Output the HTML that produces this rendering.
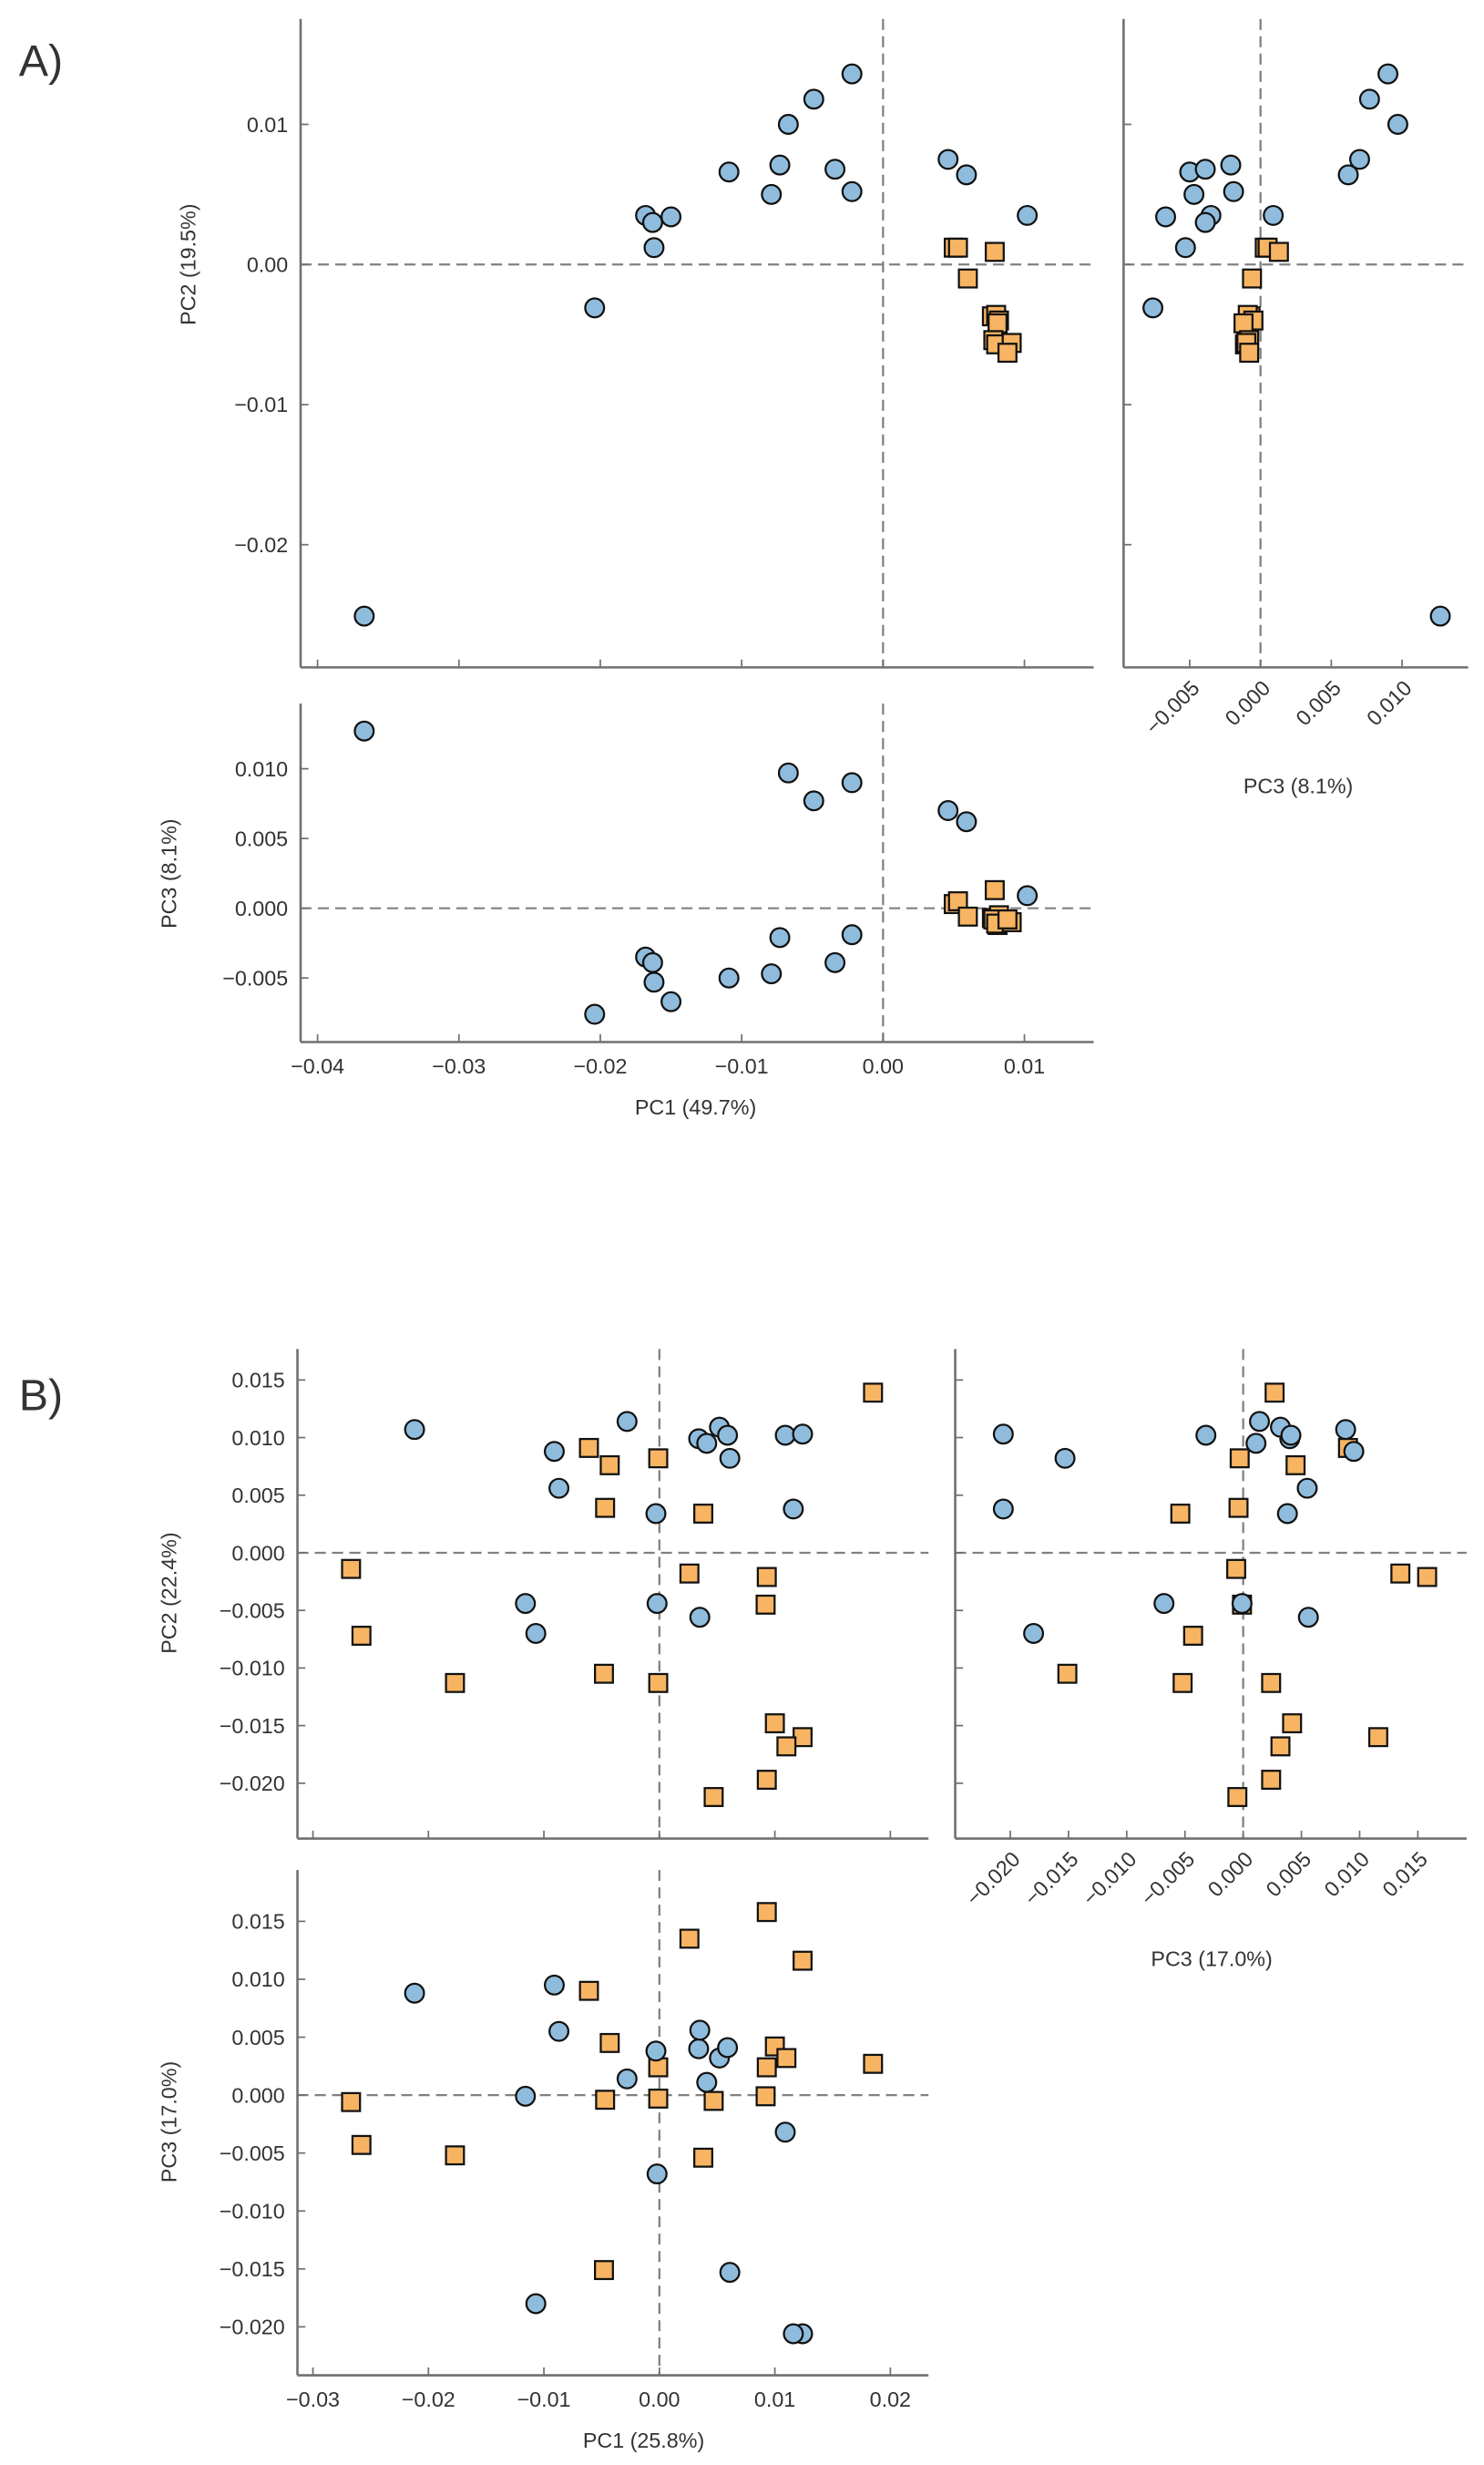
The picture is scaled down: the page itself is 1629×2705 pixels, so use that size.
<!DOCTYPE html>
<html><head><meta charset="utf-8"><style>
html,body{margin:0;padding:0;background:#fff}
svg{display:block}
text{font-family:"Liberation Sans",sans-serif;fill:#333}
</style></head><body>
<svg id="fig" width="1629" height="2705" viewBox="0 0 943 1566" xmlns="http://www.w3.org/2000/svg">
<text x="12" y="48" font-size="28">A)</text>
<text x="12" y="896" font-size="28">B)</text>
<text transform="translate(124,168) rotate(-90)" text-anchor="middle" font-size="13.5">PC2 (19.5%)</text>
<text transform="translate(112,555) rotate(-90)" text-anchor="middle" font-size="13.5">PC3 (8.1%)</text>
<text x="442" y="708" text-anchor="middle" font-size="13.5">PC1 (49.7%)</text>
<text x="825" y="504" text-anchor="middle" font-size="13.5">PC3 (8.1%)</text>
<text transform="translate(112,1012) rotate(-90)" text-anchor="middle" font-size="13.5">PC2 (22.4%)</text>
<text transform="translate(112,1348) rotate(-90)" text-anchor="middle" font-size="13.5">PC3 (17.0%)</text>
<text x="409" y="1555" text-anchor="middle" font-size="13.5">PC1 (25.8%)</text>
<text x="770" y="1249" text-anchor="middle" font-size="13.5">PC3 (17.0%)</text>
</svg>
<script>
// Panel A data: [PC1, PC2, PC3]
const aBlue=[[-0.0367,-0.0251,0.0127],[-0.0204,-0.0031,-0.0076],[-0.0168,0.0035,-0.0035],[-0.0163,0.0030,-0.0039],[-0.0162,0.0012,-0.0053],[-0.0150,0.0034,-0.0067],[-0.0109,0.0066,-0.0050],[-0.0079,0.0050,-0.0047],[-0.0073,0.0071,-0.0021],[-0.0067,0.0100,0.0097],[-0.0049,0.0118,0.0077],[-0.0034,0.0068,-0.0039],[-0.0022,0.0052,-0.0019],[-0.0022,0.0136,0.0090],[0.0046,0.0075,0.0070],[0.0059,0.0064,0.0062],[0.0102,0.0035,0.0009]];
const aOrange=[[0.0050,0.0012,0.0003],[0.0053,0.0012,0.0005],[0.0079,0.0009,0.0013],[0.0060,-0.0010,-0.0006],[0.0077,-0.0037,-0.0007],[0.0080,-0.0036,-0.0009],[0.0082,-0.0040,-0.0005],[0.0081,-0.0042,-0.0012],[0.0078,-0.0054,-0.0008],[0.0080,-0.0057,-0.0011],[0.0091,-0.0056,-0.0010],[0.0088,-0.0063,-0.0008]];
// Panel B data: [PC1, PC2, PC3]
const bBlue=[[-0.0212,0.0107,0.0088],[-0.0091,0.0088,0.0095],[-0.0087,0.0056,0.0055],[-0.0028,0.0114,0.0014],[-0.0116,-0.0044,-0.0001],[-0.0107,-0.0070,-0.0180],[-0.0003,0.0034,0.0038],[-0.0002,-0.0044,-0.0068],[0.0034,0.0099,0.0040],[0.0041,0.0095,0.0011],[0.0052,0.0109,0.0032],[0.0059,0.0102,0.0041],[0.0061,0.0082,-0.0153],[0.0035,-0.0056,0.0056],[0.0109,0.0102,-0.0032],[0.0124,0.0103,-0.0206],[0.0116,0.0038,-0.0206]];
const bOrange=[[0.0185,0.0139,0.0027],[-0.0061,0.0091,0.0090],[-0.0043,0.0076,0.0045],[-0.0001,0.0082,-0.0003],[-0.0047,0.0039,-0.0004],[0.0038,0.0034,-0.0054],[-0.0267,-0.0014,-0.0006],[-0.0258,-0.0072,-0.0043],[-0.0177,-0.0113,-0.0052],[-0.0048,-0.0105,-0.0151],[-0.0001,-0.0113,0.0024],[0.0026,-0.0018,0.0135],[0.0093,-0.0021,0.0158],[0.0092,-0.0045,-0.0001],[0.0100,-0.0148,0.0042],[0.0124,-0.0160,0.0116],[0.0110,-0.0168,0.0032],[0.0093,-0.0197,0.0024],[0.0047,-0.0212,-0.0005]];
// Tick values
const aPC1Ticks=[-0.04,-0.03,-0.02,-0.01,0,0.01];
const aPC1Labels=["−0.04","−0.03","−0.02","−0.01","0.00","0.01"];
const aPC2Ticks=[0.01,0,-0.01,-0.02];
const aPC2Labels=["0.01","0.00","−0.01","−0.02"];
const aPC3Ticks=[-0.005,0,0.005,0.010];
const aPC3Labels=["−0.005","0.000","0.005","0.010"];
const bPC1Ticks=[-0.03,-0.02,-0.01,0,0.01,0.02];
const bPC1Labels=["−0.03","−0.02","−0.01","0.00","0.01","0.02"];
const bPC2Ticks=[0.015,0.010,0.005,0,-0.005,-0.010,-0.015,-0.020];
const bPC2Labels=["0.015","0.010","0.005","0.000","−0.005","−0.010","−0.015","−0.020"];
const bPC3Ticks=[-0.020,-0.015,-0.010,-0.005,0,0.005,0.010,0.015];
const bPC3Labels=["−0.020","−0.015","−0.010","−0.005","0.000","0.005","0.010","0.015"];

const NS="http://www.w3.org/2000/svg";
const svg=document.getElementById('fig');
function mk(tag,attrs,parent){const e=document.createElementNS(NS,tag);for(const k in attrs)e.setAttribute(k,attrs[k]);(parent||svg).appendChild(e);return e;}
function scale(d0,d1,p0,p1){return v=>p0+(v-d0)/(d1-d0)*(p1-p0);}

function panel(name,xr,yr,xd,yd,opts){
  const g=mk('g',{});
  
  
  const sx=scale(xd[0],xd[1],xr[0],xr[1]), sy=scale(yd[0],yd[1],yr[0],yr[1]);
  const zx=mk('line',{x1:sx(0),x2:sx(0),y1:yr[0],y2:yr[1],stroke:'#808080','stroke-width':1.3,'stroke-dasharray':'7,4'},g);
  
  
  const zy=mk('line',{x1:xr[0],x2:xr[1],y1:sy(0),y2:sy(0),stroke:'#808080','stroke-width':1.3,'stroke-dasharray':'7,4'},g);
  
  
  const ls=mk('line',{x1:xr[0],x2:xr[0],y1:yr[0],y2:yr[1],stroke:'#707070','stroke-width':1.5},g);
  
  
  const bs=mk('line',{x1:xr[0],x2:xr[1],y1:yr[1],y2:yr[1],stroke:'#707070','stroke-width':1.5},g);
  
  
  opts.xt.forEach((t,i)=>{
    const x=sx(t);
    const tk=mk('line',{x1:x,x2:x,y1:yr[1],y2:yr[1]-5,stroke:'#707070','stroke-width':1},g);
    
    
    if(opts.xl){
      let tx;
      if(opts.rot){
        tx=mk('text',{transform:`translate(${x+7},${yr[1]+14}) rotate(-45)`,'text-anchor':'end','font-size':13.5},g);
      } else {
        tx=mk('text',{x:x,y:yr[1]+20,'text-anchor':'middle','font-size':13.5},g);
      }
      tx.textContent=opts.xl[i];
      
      
    }
  });
  opts.yt.forEach((t,i)=>{
    const y=sy(t);
    const tk=mk('line',{x1:xr[0],x2:xr[0]+5,y1:y,y2:y,stroke:'#707070','stroke-width':1},g);
    
    
    if(opts.yl){
      const tx=mk('text',{x:xr[0]-8,y:y+4.8,'text-anchor':'end','font-size':13.5},g);
      tx.textContent=opts.yl[i];
      
      
    }
  });
  opts.orange.forEach(p=>{
    const x=sx(p[opts.xi]),y=sy(p[opts.yi]);
    const r=mk('rect',{x:x-5.7,y:y-5.7,width:11.4,height:11.4,fill:'#f7b462',stroke:'#111','stroke-width':1.3},g);
    
    
  });
  opts.blue.forEach(p=>{
    const x=sx(p[opts.xi]),y=sy(p[opts.yi]);
    const c=mk('ellipse',{cx:x,cy:y,rx:6,ry:6,fill:'#8fbcdc',stroke:'#111','stroke-width':1.3},g);
    
    
  });
}

const aX1=[-0.0412,0.0149], aY2=[0.01753,-0.02876], aX3=[-0.00967,0.01467], aY3=[0.01467,-0.00959];
panel('a-pc1-vs-pc2',[191,695],[12,424],aX1,aY2,{xt:aPC1Ticks,yt:aPC2Ticks,yl:aPC2Labels,blue:aBlue,orange:aOrange,xi:0,yi:1});
panel('a-pc3-vs-pc2',[714,933],[12,424],aX3,aY2,{xt:aPC3Ticks,xl:aPC3Labels,rot:true,yt:aPC2Ticks,blue:aBlue,orange:aOrange,xi:2,yi:1});
panel('a-pc1-vs-pc3',[191,695],[447,662],aX1,aY3,{xt:aPC1Ticks,xl:aPC1Labels,yt:[0.010,0.005,0,-0.005],yl:["0.010","0.005","0.000","−0.005"],blue:aBlue,orange:aOrange,xi:0,yi:2});

const bX1=[-0.03134,0.0233], bY2=[0.01769,-0.0248], bX3=[-0.02473,0.01919], bY3=[0.01943,-0.02418];
panel('b-pc1-vs-pc2',[189,590],[857,1168],bX1,bY2,{xt:bPC1Ticks,yt:bPC2Ticks,yl:bPC2Labels,blue:bBlue,orange:bOrange,xi:0,yi:1});
panel('b-pc3-vs-pc2',[607,932],[857,1168],bX3,bY2,{xt:bPC3Ticks,xl:bPC3Labels,rot:true,yt:bPC2Ticks,blue:bBlue,orange:bOrange,xi:2,yi:1});
panel('b-pc1-vs-pc3',[189,590],[1188,1509],bX1,bY3,{xt:bPC1Ticks,xl:bPC1Labels,yt:bPC2Ticks,yl:bPC2Labels,blue:bBlue,orange:bOrange,xi:0,yi:2});
</script>
</body></html>
